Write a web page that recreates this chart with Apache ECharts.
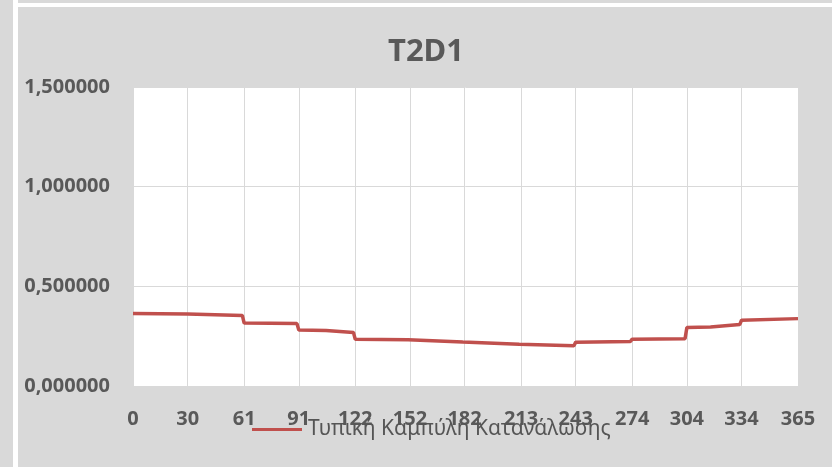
<!DOCTYPE html>
<html>
<head>
    <meta charset="utf-8">
    <title>T2D1</title>
    <style>
        body{
            margin: 0;
            padding: 0;
            background: #d9d9d9;
        }
        #container{
            width: 832px;
            height: 467px;
        }
    </style>
</head>
<body>
    <div id="container"></div>
    <script src="https://cdn.jsdelivr.net/npm/echarts@6/dist/echarts.min.js"></script>
    <script type="text/javascript">
    // 图表数据 (day, value)
    var chartTitle = 'T2D1';
    var seriesName = 'Τυπική Καμπύλη Κατανάλωσης';
    var xTicks = [0, 30, 61, 91, 122, 152, 182, 213, 243, 274, 304, 334, 365];
    var yTicks = [0, 0.5, 1, 1.5];
    var days = [0, 30, 31, 60, 61, 90, 91, 106, 107, 121, 122, 151, 152, 181, 182,
                212, 213, 242, 243, 273, 274, 303, 304, 317, 318, 333, 334, 365];
    var values = [0.364, 0.361, 0.357, 0.354, 0.316, 0.313, 0.281, 0.279, 0.269, 0.268, 0.234, 0.232, 0.222, 0.221, 0.212,
                  0.210, 0.203, 0.202, 0.220, 0.223, 0.235, 0.237, 0.293, 0.296, 0.302, 0.308, 0.330, 0.338];

    var dataUnit = [];
    for (var i = 0; i < days.length; i++) {
        dataUnit.push([days[i], values[i]]);
    }

    var myChart = echarts.init(document.getElementById('container'));
    var textColor = '#595959';

    var option = {
        backgroundColor: '#d9d9d9',
        animation: false,
        graphic: [
            { type: 'rect', shape: { x: 13, y: 0, width: 5, height: 467 }, style: { fill: '#ffffff' } },
            { type: 'rect', shape: { x: 18, y: 3, width: 814, height: 4 }, style: { fill: '#ffffff' } }
        ],
        title: {
            text: chartTitle,
            left: 388,
            top: 37,
            padding: 0,
            textStyle: {
                fontFamily: 'Noto Sans',
                fontWeight: 'bold',
                fontSize: 31,
                color: textColor
            }
        },
        legend: {
            data: [seriesName],
            left: 252,
            top: 419,
            padding: 0,
            itemWidth: 50,
            itemHeight: 3,
            itemGap: 0,
            icon: 'rect',
            textStyle: {
                fontFamily: 'Noto Sans',
                fontSize: 21,
                color: '#555555',
                padding: [0, 0, 0, 1]
            }
        },
        grid: {
            left: 133,
            right: 34,
            top: 87,
            bottom: 81,
            show: true,
            backgroundColor: '#ffffff',
            borderWidth: 0
        },
        xAxis: {
            type: 'value',
            min: 0,
            max: 365,
            axisLine: { lineStyle: { color: '#d9d9d9', width: 1 } },
            axisTick: { show: false, customValues: xTicks },
            axisLabel: {
                customValues: xTicks,
                margin: 23,
                fontFamily: 'Noto Sans',
                fontWeight: 'bold',
                fontSize: 20,
                color: textColor
            },
            splitLine: { show: true, lineStyle: { color: '#d9d9d9', width: 1 } }
        },
        yAxis: {
            type: 'value',
            min: 0,
            max: 1.5,
            interval: 0.5,
            axisLine: { show: false },
            axisTick: { show: false },
            axisLabel: {
                margin: 23,
                fontFamily: 'Noto Sans',
                fontWeight: 'bold',
                fontSize: 20,
                color: textColor,
                formatter: function (v) {
                    return v.toFixed(6).replace('.', ',');
                }
            },
            splitLine: { show: true, lineStyle: { color: '#d9d9d9', width: 1 } }
        },
        series: [{
            name: seriesName,
            type: 'line',
            data: dataUnit,
            showSymbol: false,
            symbol: 'none',
            lineStyle: { color: '#c0504d', width: 3.5 },
            itemStyle: { color: '#c0504d' }
        }]
    };

    myChart.setOption(option);
    </script>
</body>
</html>
